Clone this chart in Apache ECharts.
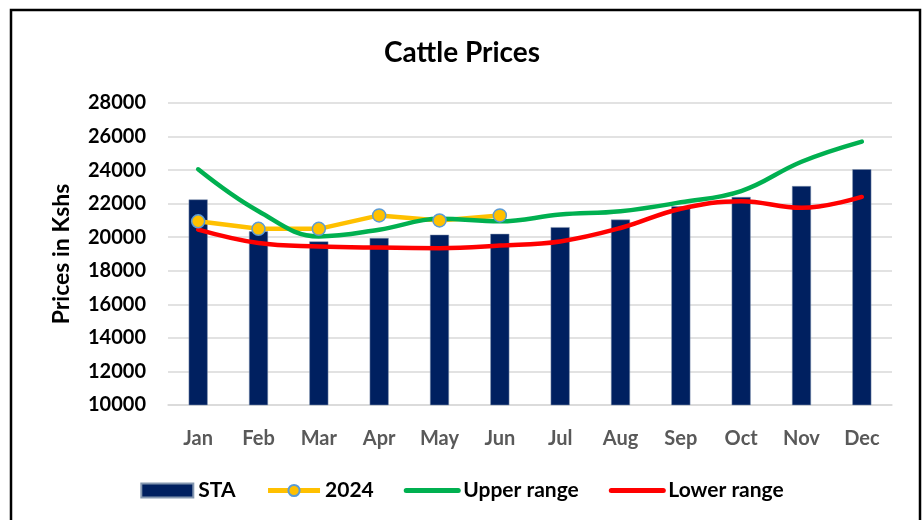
<!DOCTYPE html>
<html>
<head>
<meta charset="utf-8">
<script src="https://cdn.jsdelivr.net/npm/echarts@6/dist/echarts.min.js"></script>
<style>
  html, body { margin: 0; padding: 0; background: #fff; }
  #chart { width: 924px; height: 520px; }
</style>
</head>
<body>
<div id="chart"></div>
<script>
const months = ['Jan', 'Feb', 'Mar', 'Apr', 'May', 'Jun', 'Jul', 'Aug', 'Sep', 'Oct', 'Nov', 'Dec']
const staValues = [22250, 20350, 19750, 19950, 20150, 20200, 20600, 21050, 21850, 22400, 23050, 24050]
const values2024 = [20950, 20500, 20500, 21300, 21000, 21300]
const upperRange = [24050, 21550, 20050, 20450, 21100, 20950, 21350, 21550, 22080, 22750, 24500, 25700]
const lowerRange = [20450, 19650, 19450, 19380, 19350, 19500, 19750, 20550, 21700, 22150, 21750, 22400]

const fontFamily = 'Lato, "Open Sans", sans-serif'

const chart = echarts.init(document.getElementById('chart'))

chart.setOption({
  animation: false,
  textStyle: { fontFamily },
  title: {
    text: 'Cattle Prices',
    left: 'center',
    top: 34,
    textStyle: { fontSize: 28, fontWeight: 'bold', color: '#000', fontFamily }
  },
  graphic: [{
    type: 'rect',
    shape: { x: 11, y: 10, width: 909, height: 520 },
    style: { fill: 'none', stroke: '#000', lineWidth: 2.5 },
    silent: true
  }],
  legend: {
    bottom: 14,
    left: 'center',
    itemWidth: 52,
    itemHeight: 14,
    itemGap: 30,
    textStyle: { fontSize: 21, fontWeight: 'bold', color: '#000', fontFamily },
    data: [
      { name: 'STA', icon: 'rect' },
      { name: '2024', lineStyle: { width: 5 } },
      { name: 'Upper range', lineStyle: { width: 5 }, itemStyle: { opacity: 0 } },
      { name: 'Lower range', lineStyle: { width: 5 }, itemStyle: { opacity: 0 } }
    ]
  },
  grid: {
    left: 168,
    right: 32,
    top: 103,
    bottom: 115
  },
  xAxis: {
    type: 'category',
    data: months,
    axisLine: { show: true, lineStyle: { color: '#d9d9d9', width: 1.5 } },
    axisTick: { show: false },
    axisLabel: { fontSize: 20, fontWeight: 'bold', color: '#595959', margin: 24, fontFamily }
  },
  yAxis: {
    type: 'value',
    min: 10000,
    max: 28000,
    interval: 2000,
    name: 'Prices in Kshs',
    nameLocation: 'middle',
    nameGap: 95,
    nameTextStyle: { fontSize: 23, fontWeight: 'bold', color: '#000', fontFamily },
    axisLine: { show: false },
    axisTick: { show: false },
    axisLabel: {
      fontSize: 20,
      fontWeight: 'bold',
      color: '#000',
      margin: 22,
      fontFamily,
      formatter: v => String(v)
    },
    splitLine: { lineStyle: { color: '#d9d9d9', width: 1.5 } }
  },
  series: [
    {
      name: 'STA',
      type: 'bar',
      data: staValues,
      barWidth: 19,
      itemStyle: { color: '#002060', borderColor: '#8497b0', borderWidth: 0.5 }
    },
    {
      name: '2024',
      type: 'line',
      data: values2024,
      symbol: 'circle',
      symbolSize: 13,
      lineStyle: { color: '#FFC000', width: 4.5 },
      itemStyle: { color: '#FFC000', borderColor: '#5B9BD5', borderWidth: 1.5 }
    },
    {
      name: 'Upper range',
      type: 'line',
      data: upperRange,
      smooth: 0.4,
      showSymbol: false,
      lineStyle: { color: '#00B050', width: 4.5, cap: 'round' },
      itemStyle: { color: '#00B050' }
    },
    {
      name: 'Lower range',
      type: 'line',
      data: lowerRange,
      smooth: 0.4,
      showSymbol: false,
      lineStyle: { color: '#FF0000', width: 4.5, cap: 'round' },
      itemStyle: { color: '#FF0000' }
    }
  ]
})
</script>
</body>
</html>
